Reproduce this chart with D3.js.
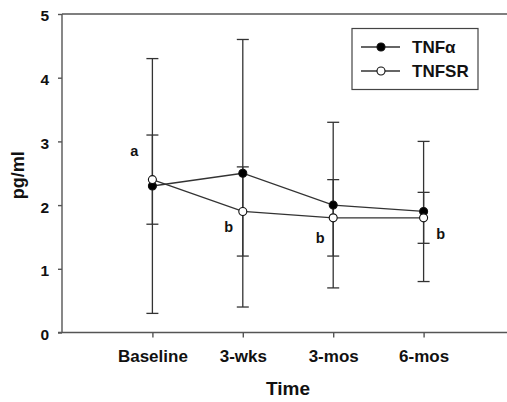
<!DOCTYPE html>
<html lang="en">
<head>
  <meta charset="UTF-8">
  <title>TNFα and TNFSR over time</title>
  <script src="https://d3js.org/d3.v7.min.js"></script>
  <style>
    body { margin: 0; background: #fff; }
    text { font-family: "Liberation Sans", Arial, sans-serif; font-weight: bold; fill: #111; }
  </style>
</head>
<body>
  <svg id="chart" width="507" height="402"></svg>
  <script>
    // Data
    const categories = ["Baseline", "3-wks", "3-mos", "6-mos"];
    const tnfMean = [2.3, 2.5, 2.0, 1.9];
    const tnfErr = [2.0, 2.1, 1.3, 1.1];
    const tnfsrMean = [2.4, 1.9, 1.8, 1.8];
    const tnfsrErr = [0.7, 0.7, 0.6, 0.4];
    const sigLetters = [
      { pos: 1, y: 2.85, text: "a", dx: -18 },
      { pos: 2, y: 1.65, text: "b", dx: -14 },
      { pos: 3, y: 1.48, text: "b", dx: -13 },
      { pos: 4, y: 1.55, text: "b", dx: 17 }
    ];
    const yTicks = [0, 1, 2, 3, 4, 5];

    const svg = d3.select("#chart");
    const plotLeft = 62, plotTop = 14, plotBottom = 332.5;
    const lineColor = "#333";
    const axisColor = "#555";

    // x: category positions 1..4 on a 0..5 range
    const x = d3.scaleLinear().domain([0, 5]).range([plotLeft, 514]);
    const y = d3.scaleLinear().domain([0, 5]).range([plotBottom, plotTop]);

    // axes
    const yAxis = svg.append("g")
      .attr("transform", `translate(${plotLeft},0)`)
      .call(d3.axisLeft(y).tickValues(yTicks).tickSize(4).tickPadding(9).tickFormat(d3.format("d")));
    yAxis.select(".domain").attr("stroke", axisColor).attr("stroke-width", 1.4).attr("d", `M0,${plotBottom}V${plotTop}`);
    yAxis.selectAll(".tick line").attr("stroke", axisColor).attr("stroke-width", 1.4);
    yAxis.selectAll(".tick text")
      .attr("dy", "0.45em")
      .style("font-size", "15.5px").style("font-family", "Liberation Sans, Arial, sans-serif")
      .style("font-weight", "bold").attr("fill", "#111");

    const xAxis = svg.append("g")
      .attr("transform", `translate(0,${plotBottom})`)
      .call(d3.axisBottom(x).tickValues([1, 2, 3, 4]).tickSize(5).tickPadding(12)
        .tickFormat(d => categories[d - 1]));
    xAxis.select(".domain").attr("stroke", axisColor).attr("stroke-width", 1.4).attr("d", `M${plotLeft - 4},0H507`);
    xAxis.selectAll(".tick line").attr("stroke", axisColor).attr("stroke-width", 1.4);
    xAxis.selectAll(".tick text")
      .style("font-size", "17px").style("font-family", "Liberation Sans, Arial, sans-serif")
      .style("font-weight", "bold").attr("fill", "#111");

    // top frame line
    svg.append("line")
      .attr("x1", plotLeft).attr("x2", 507).attr("y1", plotTop).attr("y2", plotTop)
      .attr("stroke", axisColor).attr("stroke-width", 1.4);

    // axis titles
    svg.append("text")
      .attr("x", x(2.5)).attr("y", 395)
      .attr("text-anchor", "middle")
      .style("font-size", "19px")
      .text("Time");
    svg.append("text")
      .attr("transform", `translate(23.5,${y(2.5) + 2}) rotate(-90)`)
      .attr("text-anchor", "middle")
      .style("font-size", "18px")
      .text("pg/ml");

    const capW = 6;
    function drawErrors(means, errs) {
      const g = svg.append("g").attr("stroke", lineColor).attr("stroke-width", 1.3);
      means.forEach((m, i) => {
        const cx = x(i + 1);
        g.append("line").attr("x1", cx).attr("x2", cx).attr("y1", y(m - errs[i])).attr("y2", y(m + errs[i]));
        [m - errs[i], m + errs[i]].forEach(v => {
          g.append("line").attr("x1", cx - capW).attr("x2", cx + capW).attr("y1", y(v)).attr("y2", y(v));
        });
      });
    }
    drawErrors(tnfMean, tnfErr);
    drawErrors(tnfsrMean, tnfsrErr);

    const line = d3.line().x((d, i) => x(i + 1)).y(d => y(d));
    function drawSeries(means, fill) {
      svg.append("path")
        .attr("d", line(means))
        .attr("fill", "none").attr("stroke", lineColor).attr("stroke-width", 1.3);
      svg.append("g").selectAll("circle")
        .data(means)
        .join("circle")
        .attr("cx", (d, i) => x(i + 1))
        .attr("cy", d => y(d))
        .attr("r", 4)
        .attr("fill", fill)
        .attr("stroke", "#111").attr("stroke-width", 1.1);
    }
    drawSeries(tnfMean, "#000");
    drawSeries(tnfsrMean, "#fff");

    // significance letters
    svg.append("g").selectAll("text")
      .data(sigLetters)
      .join("text")
      .attr("x", d => x(d.pos) + d.dx)
      .attr("y", d => y(d.y))
      .attr("text-anchor", "middle")
      .attr("dy", "0.35em")
      .style("font-size", "14.5px")
      .text(d => d.text);

    // legend
    const legend = svg.append("g");
    legend.append("rect")
      .attr("x", 352).attr("y", 28.5).attr("width", 126).attr("height", 61)
      .attr("fill", "#fff").attr("stroke", "#444").attr("stroke-width", 1.2);
    const legendItems = [
      { name: "TNFα", fill: "#000" },
      { name: "TNFSR", fill: "#fff" }
    ];
    legendItems.forEach((d, i) => {
      const ly = 47 + i * 24;
      legend.append("line")
        .attr("x1", 361).attr("x2", 400).attr("y1", ly).attr("y2", ly)
        .attr("stroke", lineColor).attr("stroke-width", 1.3);
      legend.append("circle")
        .attr("cx", 381).attr("cy", ly).attr("r", 4)
        .attr("fill", d.fill).attr("stroke", "#111").attr("stroke-width", 1.1);
      legend.append("text")
        .attr("x", 412).attr("y", ly).attr("dy", "0.36em")
        .style("font-size", "17px")
        .text(d.name);
    });
  </script>
</body>
</html>
